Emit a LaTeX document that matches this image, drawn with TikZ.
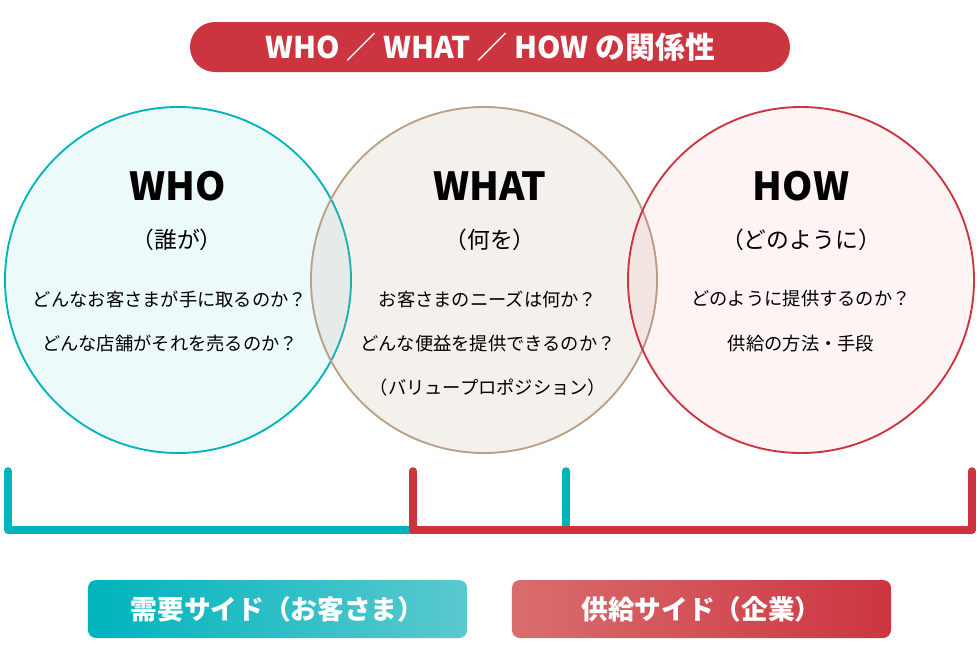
\documentclass[tikz,border=0pt]{standalone}
\usepackage{fontspec}
\setmainfont{Noto Sans CJK JP}
\definecolor{whoteal}{HTML}{00B4BC}
\definecolor{tealpale}{HTML}{5AC9CF}
\definecolor{howred}{HTML}{CC3540}
\definecolor{redpale}{HTML}{D96D6E}
\definecolor{whattan}{HTML}{B9A088}

\tikzset{every picture/.style={line width=0.75pt}}
\tikzset{
  ring/.style={circle,minimum size=10.38cm,line width=1.6pt,fill opacity=0.07,draw opacity=1},
  head/.style={font=\bfseries\fontsize{33}{36}\selectfont},
  sub/.style={font=\fontsize{19.5}{22}\selectfont},
  body/.style={font=\fontsize{15.6}{18}\selectfont},
  pill/.style={text=white,font=\bfseries\fontsize{22.8}{26}\selectfont,minimum height=1.74cm,rounded corners=0.24cm},
  bracket/.style={line width=6.5pt,line cap=round,line join=round}
}

\begin{document}
\begin{tikzpicture}[x=0.03cm,y=-0.03cm]
  \useasboundingbox (0,0) rectangle (980,660);

  % title
  \node [fill=howred,text=white,minimum width=18cm,minimum height=1.5cm,rounded corners=0.75cm,
         font=\bfseries\fontsize{25.5}{28}\selectfont] (title) at (490,47) {WHO ／ WHAT ／ HOW の関係性};

  % circles
  \node [ring,draw=whoteal,fill=whoteal] (who) at (178,280) {};
  \node [ring,draw=whattan,fill=whattan,fill opacity=0.16] (what) at (484,280) {};
  \node [ring,draw=howred,fill=howred!80!orange,fill opacity=0.06] (how) at (801,280) {};

  \node [head] (whoh) at (178,186) {WHO};
  \node [sub] (whos) at (177,240) {（誰が）};
  \node [body] (who1) at (170,299) {どんなお客さまが手に取るのか？};
  \node [body] (who2) at (170,344) {どんな店舗がそれを売るのか？};

  \node [head] (whath) at (490,186) {WHAT};
  \node [sub] (whats) at (490,240) {（何を）};
  \node [body] (what1) at (488,299) {お客さまのニーズは何か？};
  \node [body] (what2) at (488,344) {どんな便益を提供できるのか？};
  \node [body] (what3) at (488,388) {（バリュープロポジション）};

  \node [head] (howh) at (801,186) {HOW};
  \node [sub] (hows) at (801,240) {（どのように）};
  \node [body] (how1) at (801,299) {どのように提供するのか？};
  \node [body] (how2) at (801,344) {供給の方法・手段};

  % brackets
  \coordinate (dl) at (8,471);
  \coordinate (dr) at (566,471);
  \coordinate (sl) at (413,471);
  \coordinate (sr) at (972,471);
  \draw [bracket,whoteal] (dl) |- (420,530);
  \draw [bracket,whoteal] (dr) -- (566,526);
  \draw [bracket,howred] (sl) |- (sr |- 0,530) -- (sr);

  % bottom labels
  \node [pill,left color=whoteal,right color=tealpale,minimum width=11.37cm] (demand) at (277.5,609) {需要サイド（お客さま）};
  \node [pill,left color=redpale,right color=howred,minimum width=11.37cm] (supply) at (701.5,609) {供給サイド（企業）};
\end{tikzpicture}
\end{document}
